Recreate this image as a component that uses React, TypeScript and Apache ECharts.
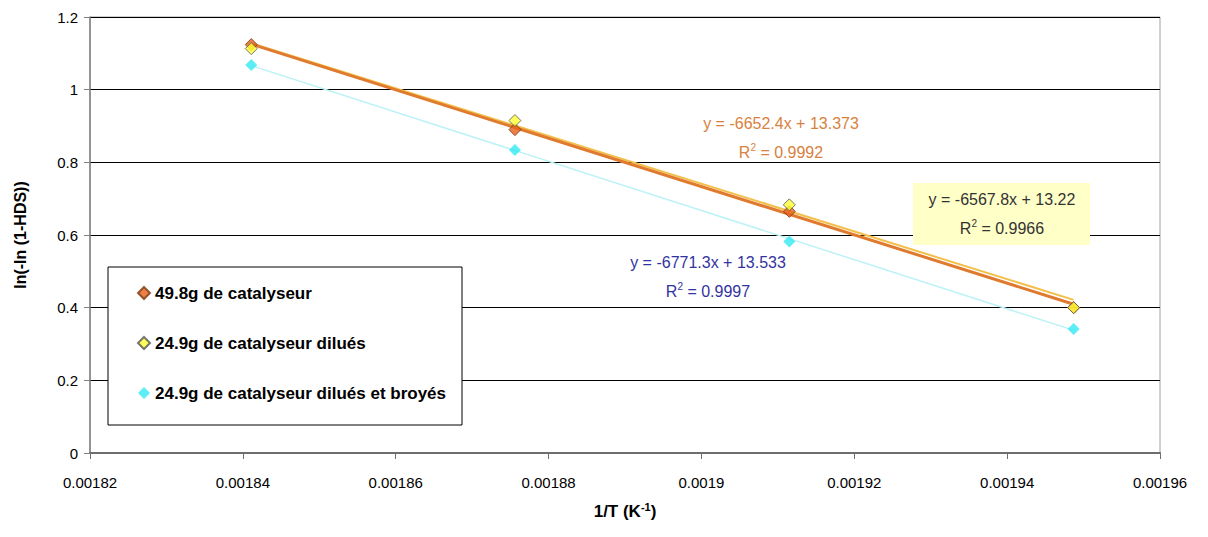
import React, { useEffect, useRef } from 'react';
import * as echarts from 'echarts';

// 1/T values (K^-1)
const xValues = [0.0018411, 0.0018756, 0.0019115, 0.0019487];
// ln(-ln(1-HDS)) values
const seriesNames = [
  '49.8g de catalyseur',
  '24.9g de catalyseur dilués',
  '24.9g de catalyseur dilués et broyés',
];
const yOrange = [1.124, 0.89, 0.665, 0.4];
const yYellow = [1.113, 0.915, 0.683, 0.4];
const yCyan = [1.068, 0.834, 0.582, 0.341];
// trendline coefficients
const slopes = [-6652.4, -6567.8, -6771.3];
const intercepts = [13.373, 13.22, 13.533];
const equationTexts = ['y = -6652.4x + 13.373', 'y = -6567.8x + 13.22', 'y = -6771.3x + 13.533'];
const r2Texts = ['0.9992', '0.9966', '0.9997'];
const yTicks = { min: 0, max: 1.2, interval: 0.2 };
const xTicks = { min: 0.00182, max: 0.00196, interval: 0.00002 };

const FONT = 'Arial, "Liberation Sans", sans-serif';

function trend(i: number) {
  const x0 = xValues[0];
  const x1 = xValues[xValues.length - 1];
  return [
    [x0, slopes[i] * x0 + intercepts[i]],
    [x1, slopes[i] * x1 + intercepts[i]],
  ];
}

function eqGraphic(i: number, cx: number, cy: number, color: string) {
  return [
    {
      type: 'text',
      x: cx,
      y: cy,
      z: 100,
      style: {
        text: equationTexts[i],
        fill: color,
        font: `16px ${FONT}`,
        align: 'center',
        verticalAlign: 'middle',
      },
    },
    {
      type: 'text',
      x: cx,
      y: cy + 28,
      z: 100,
      style: {
        text: '{a|R}{sup|2}{a| = ' + r2Texts[i] + '}',
        fill: color,
        align: 'center',
        verticalAlign: 'middle',
        rich: {
          a: { fontSize: 16, fontFamily: FONT, fill: color, lineHeight: 18, verticalAlign: 'bottom' },
          sup: { fontSize: 10, fontFamily: FONT, fill: color, lineHeight: 18, verticalAlign: 'top' },
        },
      },
    },
  ];
}

export default function App() {
  const ref = useRef<HTMLDivElement>(null);
  useEffect(() => {
    const chart = echarts.init(ref.current!, null, { renderer: 'svg' });
    const scatterStyles = [
      { color: '#E8601C', borderColor: '#7A3A10', borderWidth: 1 },
      { color: '#FFFF33', borderColor: '#555555', borderWidth: 1 },
      { color: '#33E8F2', borderColor: '#33E8F2', borderWidth: 0 },
    ];
    const yData = [yOrange, yYellow, yCyan];
    const option: any = {
      animation: false,
      backgroundColor: '#ffffff',
      grid: {
        left: 90,
        right: 48,
        top: 17,
        bottom: 84,
        show: true,
        borderColor: '#a0a0a0',
        borderWidth: 1,
        backgroundColor: 'transparent',
      },
      xAxis: {
        type: 'value',
        min: xTicks.min,
        max: xTicks.max,
        interval: xTicks.interval,
        axisLine: { show: true, onZero: false, lineStyle: { color: '#6e6e6e', width: 2 } },
        axisTick: { show: true, length: 6, lineStyle: { color: '#6e6e6e' } },
        splitLine: { show: false },
        axisLabel: {
          color: '#000',
          fontSize: 15,
          fontFamily: FONT,
          margin: 22,
          formatter: (v: number) => String(parseFloat(v.toPrecision(6))),
        },
        name: '1/T (K{sup|-1})',
        nameLocation: 'middle',
        nameGap: 48,
        nameTextStyle: {
          color: '#000',
          fontSize: 17,
          fontWeight: 'bold',
          fontFamily: FONT,
          rich: {
            sup: { fontSize: 11, fontWeight: 'bold', fontFamily: FONT, color: '#000', padding: [0, 0, 9, 0] },
          },
        },
      },
      yAxis: {
        type: 'value',
        min: yTicks.min,
        max: yTicks.max,
        interval: yTicks.interval,
        axisLine: { show: true, lineStyle: { color: '#808080', width: 1.5 } },
        axisTick: { show: true, length: 6, lineStyle: { color: '#808080' } },
        splitLine: { show: true, lineStyle: { color: '#000', width: 1 } },
        axisLabel: {
          color: '#000',
          fontSize: 15,
          fontFamily: FONT,
          margin: 12,
        },
        name: 'ln(-ln (1-HDS))',
        nameLocation: 'middle',
        nameGap: 62,
        nameTextStyle: {
          color: '#000',
          fontSize: 16,
          fontWeight: 'bold',
          fontFamily: FONT,
        },
      },
      legend: {
        show: true,
        orient: 'vertical',
        left: 137,
        top: 283,
        z: 200,
        data: seriesNames,
        itemWidth: 12,
        itemHeight: 12,
        itemGap: 30,
        padding: 0,
        textStyle: { color: '#000', fontSize: 17, fontWeight: 'bold', fontFamily: FONT, lineHeight: 20 },
      },
      series: [
        {
          name: '_t1',
          type: 'line',
          data: trend(0),
          symbol: 'none',
          lineStyle: { color: '#E07A2E', width: 3 },
          z: 3,
          silent: true,
        },
        {
          name: '_t2',
          type: 'line',
          data: trend(1),
          symbol: 'none',
          lineStyle: { color: '#F2C04A', width: 2 },
          z: 2,
          silent: true,
        },
        {
          name: '_t3',
          type: 'line',
          data: trend(2),
          symbol: 'none',
          lineStyle: { color: '#BDF2F7', width: 1.5 },
          z: 2,
          silent: true,
        },
        ...seriesNames.map((n, i) => ({
          name: n,
          type: 'scatter',
          symbol: 'diamond',
          symbolSize: 12,
          data: xValues.map((x, k) => [x, yData[i][k]]),
          itemStyle: scatterStyles[i],
          z: 10 + (i === 2 ? 0 : i),
        })),
      ],
      graphic: [
        {
          type: 'rect',
          shape: { x: 108, y: 267, width: 354, height: 158 },
          style: { fill: '#fff', stroke: '#000', lineWidth: 1 },
          z: 50,
        },
        {
          type: 'rect',
          shape: { x: 913, y: 183, width: 177, height: 62 },
          style: { fill: '#FFFFC8' },
          z: 90,
        },
        ...eqGraphic(0, 781, 123, '#D9813E'),
        ...eqGraphic(1, 1002, 199, '#333333'),
        ...eqGraphic(2, 708, 262, '#3333A0'),
      ],
    };
    chart.setOption(option);
    return () => chart.dispose();
  }, []);
  return (
    <div
      ref={ref}
      style={{ position: 'fixed', left: 0, top: 0, width: 1208, height: 537, background: '#fff' }}
    />
  );
}
